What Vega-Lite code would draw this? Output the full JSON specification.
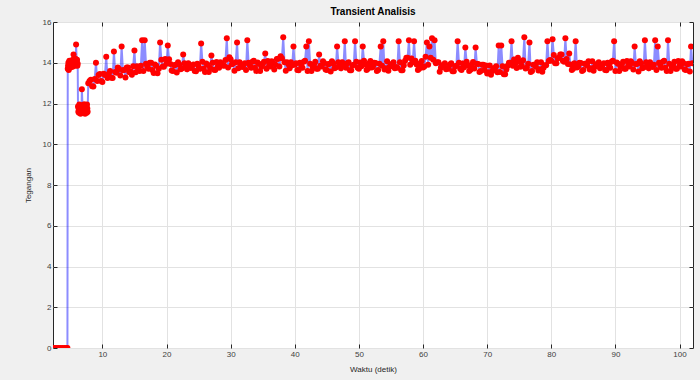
{
  "$schema": "https://vega.github.io/schema/vega-lite/v6.json",
  "width": 640,
  "height": 326,
  "autosize": {"type": "none"},
  "padding": {"left": 53, "top": 22, "right": 7, "bottom": 32},
  "background": "#f0f0f0",
  "title": {"text": "Transient Analisis", "fontSize": 10, "fontWeight": "bold", "font": "Liberation Sans", "color": "#000000", "offset": 1, "anchor": "middle"},
  "config": {
    "view": {"fill": "white", "stroke": "#262626", "strokeWidth": 1},
    "axis": {"labelFont": "Liberation Sans", "labelFontSize": 8, "labelColor": "#404040", "titleFont": "Liberation Sans", "titleFontSize": 8, "titleFontWeight": "normal", "titleColor": "#262626", "domain": false, "tickColor": "#262626", "tickSize": -4, "gridColor": "#e2e2e2", "gridWidth": 1, "labelPadding": 6}
  },
  "data": {"values": [
    {"t":2.3,"v":0},{"t":2.6,"v":0},{"t":2.9,"v":0},{"t":3.2,"v":0},{"t":3.5,"v":0},{"t":3.8,"v":0},{"t":4.1,"v":0},{"t":4.4,"v":0},{"t":4.55,"v":0},
    {"t":4.6,"v":13.7},{"t":4.7,"v":14.0},{"t":4.8,"v":13.75},{"t":4.9,"v":13.95},{"t":5.0,"v":13.85},{"t":5.1,"v":14.1},{"t":5.2,"v":13.8},{"t":5.3,"v":13.9},{"t":5.4,"v":14.15},{"t":5.5,"v":14.4},{"t":5.6,"v":14.0},{"t":5.7,"v":13.9},{"t":5.8,"v":14.2},{"t":5.9,"v":14.9},{"t":6.0,"v":14.05},{"t":6.1,"v":13.85},
    {"t":4.65,"v":13.85},{"t":4.75,"v":13.65},{"t":4.85,"v":14.1},{"t":4.95,"v":13.75},{"t":5.05,"v":14.0},{"t":5.15,"v":13.9},{"t":5.25,"v":14.05},{"t":5.35,"v":13.8},{"t":5.45,"v":14.0},{"t":5.65,"v":14.1},{"t":5.75,"v":13.85},{"t":5.85,"v":14.05},{"t":6.05,"v":14.15},{"t":6.15,"v":13.95},
    {"t":6.2,"v":11.85},{"t":6.3,"v":11.75},{"t":6.4,"v":11.95},{"t":6.5,"v":11.6},{"t":6.6,"v":11.5},{"t":6.7,"v":11.8},{"t":6.8,"v":12.7},{"t":6.9,"v":11.9},{"t":7.0,"v":11.7},{"t":7.1,"v":11.95},{"t":7.2,"v":11.65},{"t":7.3,"v":11.5},{"t":7.4,"v":11.8},{"t":7.5,"v":11.85},{"t":7.6,"v":11.95},{"t":7.7,"v":11.6},
    {"t":6.25,"v":11.6},{"t":6.35,"v":11.55},{"t":6.45,"v":11.8},{"t":6.55,"v":11.9},{"t":6.65,"v":11.65},{"t":6.75,"v":11.6},{"t":6.95,"v":11.55},{"t":7.05,"v":11.85},{"t":7.15,"v":11.8},{"t":7.25,"v":11.95},{"t":7.35,"v":11.9},{"t":7.45,"v":11.6},{"t":7.55,"v":11.55},{"t":7.65,"v":11.75},
    {"t":7.8,"v":13.0},{"t":8.0,"v":13.1},{"t":8.4,"v":12.85},{"t":8.8,"v":13.2},{"t":9.0,"v":14.0},{"t":9.2,"v":13.1},{"t":9.6,"v":13.45},{"t":10.0,"v":13.05},{"t":10.4,"v":13.4},{"t":10.6,"v":14.3},{"t":10.8,"v":13.25},{"t":11.2,"v":13.6},{"t":11.6,"v":13.25},{"t":11.8,"v":14.55},{"t":12.0,"v":13.55},{"t":12.4,"v":13.77},{"t":12.8,"v":13.37},{"t":13.0,"v":14.8},{"t":13.2,"v":13.63},{"t":13.6,"v":13.27},{"t":14.0,"v":13.77},{"t":14.4,"v":13.57},{"t":14.8,"v":13.83},{"t":15.0,"v":14.6},{"t":15.2,"v":13.53},{"t":15.6,"v":13.68},{"t":16.0,"v":13.85},{"t":16.2,"v":15.1},{"t":16.4,"v":13.6},{"t":16.6,"v":15.1},{"t":16.8,"v":13.95},{"t":17.2,"v":13.7},{"t":17.6,"v":14.0},{"t":18.0,"v":13.5},{"t":18.4,"v":13.85},{"t":18.8,"v":13.7},{"t":19.0,"v":15.0},{"t":19.2,"v":14.15},{"t":19.6,"v":13.8},{"t":20.0,"v":13.95},{"t":20.2,"v":14.85},{"t":20.4,"v":14.17},{"t":20.8,"v":13.62},{"t":21.2,"v":13.88},{"t":21.6,"v":13.52},{"t":22.0,"v":13.92},{"t":22.4,"v":13.72},{"t":22.6,"v":14.4},{"t":22.8,"v":13.98},{"t":23.2,"v":13.68},{"t":23.6,"v":13.83},{"t":24.0,"v":13.85},{"t":24.4,"v":13.6},{"t":24.8,"v":13.95},{"t":25.2,"v":13.7},{"t":25.4,"v":14.95},{"t":25.6,"v":14.05},{"t":26.0,"v":13.55},{"t":26.4,"v":13.9},{"t":26.8,"v":13.75},{"t":27.0,"v":14.35},{"t":27.2,"v":14.0},{"t":27.6,"v":13.65},{"t":28.0,"v":13.8},{"t":28.4,"v":14.02},{"t":28.8,"v":13.87},{"t":29.2,"v":14.13},{"t":29.4,"v":15.2},{"t":29.6,"v":13.77},{"t":30.0,"v":14.17},{"t":30.4,"v":13.97},{"t":30.8,"v":14.03},{"t":31.0,"v":15.0},{"t":31.2,"v":13.73},{"t":31.6,"v":13.88},{"t":32.0,"v":13.9},{"t":32.4,"v":13.65},{"t":32.6,"v":15.1},{"t":32.8,"v":14.0},{"t":33.2,"v":13.75},{"t":33.6,"v":14.1},{"t":34.0,"v":13.6},{"t":34.4,"v":13.95},{"t":34.8,"v":13.8},{"t":35.2,"v":14.05},{"t":35.4,"v":14.45},{"t":35.6,"v":13.7},{"t":36.0,"v":13.85},{"t":36.4,"v":14.07},{"t":36.8,"v":13.67},{"t":37.2,"v":14.18},{"t":37.6,"v":13.82},{"t":38.0,"v":14.22},{"t":38.2,"v":15.25},{"t":38.4,"v":14.02},{"t":38.8,"v":14.03},{"t":39.2,"v":13.73},{"t":39.6,"v":13.88},{"t":39.8,"v":14.8},{"t":40.0,"v":13.9},{"t":40.4,"v":13.65},{"t":40.8,"v":14.0},{"t":41.2,"v":13.75},{"t":41.6,"v":14.1},{"t":41.8,"v":14.8},{"t":42.0,"v":13.6},{"t":42.2,"v":15.05},{"t":42.4,"v":13.95},{"t":42.8,"v":13.8},{"t":43.2,"v":14.05},{"t":43.6,"v":13.7},{"t":43.8,"v":14.4},{"t":44.0,"v":13.85},{"t":44.4,"v":14.07},{"t":44.8,"v":13.67},{"t":45.2,"v":13.93},{"t":45.6,"v":13.57},{"t":46.0,"v":13.97},{"t":46.4,"v":13.77},{"t":46.6,"v":14.8},{"t":46.8,"v":14.03},{"t":47.2,"v":13.73},{"t":47.6,"v":13.88},{"t":47.8,"v":15.05},{"t":48.0,"v":13.75},{"t":48.4,"v":14.03},{"t":48.8,"v":13.63},{"t":49.2,"v":13.9},{"t":49.4,"v":15.05},{"t":49.6,"v":14.05},{"t":50.0,"v":13.7},{"t":50.4,"v":13.83},{"t":50.6,"v":14.8},{"t":50.8,"v":14.1},{"t":51.2,"v":13.65},{"t":51.6,"v":13.97},{"t":52.0,"v":13.77},{"t":52.4,"v":14.0},{"t":52.8,"v":13.6},{"t":53.2,"v":13.95},{"t":53.4,"v":14.8},{"t":53.6,"v":13.85},{"t":53.8,"v":15.05},{"t":54.0,"v":13.67},{"t":54.4,"v":14.07},{"t":54.8,"v":13.8},{"t":55.2,"v":13.93},{"t":55.6,"v":13.73},{"t":56.0,"v":13.75},{"t":56.2,"v":15.05},{"t":56.4,"v":14.03},{"t":56.8,"v":13.63},{"t":57.2,"v":14.1},{"t":57.6,"v":14.25},{"t":57.8,"v":15.1},{"t":58.0,"v":13.9},{"t":58.4,"v":14.03},{"t":58.6,"v":15.05},{"t":58.8,"v":14.1},{"t":59.2,"v":13.65},{"t":59.6,"v":13.97},{"t":60.0,"v":13.77},{"t":60.4,"v":14.3},{"t":60.6,"v":15.0},{"t":60.8,"v":13.9},{"t":61.0,"v":14.8},{"t":61.2,"v":14.25},{"t":61.4,"v":15.2},{"t":61.6,"v":14.15},{"t":61.8,"v":15.1},{"t":62.0,"v":13.97},{"t":62.4,"v":14.02},{"t":62.8,"v":13.75},{"t":63.2,"v":13.88},{"t":63.6,"v":13.68},{"t":64.0,"v":13.7},{"t":64.4,"v":13.98},{"t":64.8,"v":13.58},{"t":65.2,"v":13.85},{"t":65.4,"v":15.05},{"t":65.6,"v":14.0},{"t":66.0,"v":13.65},{"t":66.4,"v":13.78},{"t":66.6,"v":14.75},{"t":66.8,"v":14.05},{"t":67.2,"v":13.6},{"t":67.6,"v":13.92},{"t":68.0,"v":13.72},{"t":68.2,"v":14.75},{"t":68.4,"v":13.95},{"t":68.8,"v":13.55},{"t":69.2,"v":13.9},{"t":69.6,"v":13.65},{"t":70.0,"v":13.47},{"t":70.4,"v":13.87},{"t":70.8,"v":13.6},{"t":71.2,"v":13.73},{"t":71.6,"v":13.53},{"t":71.8,"v":14.85},{"t":72.0,"v":13.55},{"t":72.2,"v":14.85},{"t":72.4,"v":13.83},{"t":72.8,"v":13.43},{"t":73.2,"v":13.85},{"t":73.6,"v":14.0},{"t":73.8,"v":15.05},{"t":74.0,"v":13.85},{"t":74.4,"v":13.98},{"t":74.8,"v":14.25},{"t":75.2,"v":13.8},{"t":75.6,"v":14.12},{"t":75.8,"v":15.25},{"t":76.0,"v":13.72},{"t":76.4,"v":13.95},{"t":76.6,"v":15.0},{"t":76.8,"v":13.55},{"t":77.2,"v":13.9},{"t":77.6,"v":13.8},{"t":78.0,"v":13.62},{"t":78.4,"v":14.02},{"t":78.8,"v":13.75},{"t":79.2,"v":13.88},{"t":79.4,"v":15.05},{"t":79.6,"v":14.08},{"t":80.0,"v":14.1},{"t":80.2,"v":15.15},{"t":80.4,"v":14.38},{"t":80.8,"v":13.98},{"t":81.2,"v":14.25},{"t":81.6,"v":14.4},{"t":82.0,"v":14.05},{"t":82.2,"v":15.2},{"t":82.4,"v":14.18},{"t":82.8,"v":14.45},{"t":83.2,"v":13.65},{"t":83.6,"v":13.97},{"t":83.8,"v":15.05},{"t":84.0,"v":13.77},{"t":84.4,"v":14.0},{"t":84.8,"v":13.6},{"t":85.2,"v":13.95},{"t":85.6,"v":13.85},{"t":86.0,"v":13.67},{"t":86.4,"v":14.07},{"t":86.8,"v":13.8},{"t":87.2,"v":13.93},{"t":87.6,"v":13.73},{"t":88.0,"v":13.9},{"t":88.4,"v":13.65},{"t":88.8,"v":14.0},{"t":89.2,"v":13.75},{"t":89.6,"v":14.1},{"t":89.8,"v":15.05},{"t":90.0,"v":13.6},{"t":90.4,"v":13.95},{"t":90.8,"v":13.8},{"t":91.2,"v":14.05},{"t":91.6,"v":13.7},{"t":92.0,"v":13.85},{"t":92.4,"v":14.07},{"t":92.8,"v":13.67},{"t":93.0,"v":14.8},{"t":93.2,"v":13.93},{"t":93.6,"v":13.57},{"t":94.0,"v":13.97},{"t":94.4,"v":13.77},{"t":94.6,"v":15.1},{"t":94.8,"v":14.03},{"t":95.2,"v":13.73},{"t":95.6,"v":13.88},{"t":96.0,"v":13.9},{"t":96.2,"v":15.1},{"t":96.4,"v":13.65},{"t":96.6,"v":14.8},{"t":96.8,"v":14.0},{"t":97.2,"v":13.75},{"t":97.6,"v":14.1},{"t":98.0,"v":13.6},{"t":98.2,"v":15.1},{"t":98.4,"v":13.95},{"t":98.8,"v":13.8},{"t":99.2,"v":14.05},{"t":99.6,"v":13.7},{"t":100.0,"v":13.85},{"t":100.4,"v":14.07},{"t":100.8,"v":13.67},{"t":101.2,"v":13.93},{"t":101.6,"v":13.57},{"t":101.8,"v":14.8},{"t":102.0,"v":13.97},
    {"t":8.2,"v":13.17},{"t":8.6,"v":12.83},{"t":9.4,"v":13.4},{"t":9.8,"v":13.1},{"t":10.2,"v":13.46},{"t":11.0,"v":13.46},{"t":11.4,"v":13.26},{"t":12.2,"v":13.51},{"t":12.6,"v":13.69},{"t":13.4,"v":13.65},{"t":13.8,"v":13.77},{"t":14.2,"v":13.53},{"t":14.6,"v":13.41},{"t":15.4,"v":13.83},{"t":15.8,"v":13.59},{"t":17.0,"v":13.82},{"t":17.4,"v":14.0},{"t":17.8,"v":13.65},{"t":18.2,"v":13.91},{"t":18.6,"v":13.49},{"t":19.4,"v":13.81},{"t":19.8,"v":14.19},{"t":20.6,"v":13.94},{"t":21.0,"v":13.6},{"t":21.4,"v":13.9},{"t":21.8,"v":14.02},{"t":22.2,"v":13.68},{"t":23.0,"v":13.88},{"t":23.4,"v":13.98},{"t":23.8,"v":13.74},{"t":24.2,"v":13.92},{"t":24.6,"v":13.58},{"t":25.0,"v":13.82},{"t":25.8,"v":13.7},{"t":26.2,"v":13.96},{"t":26.6,"v":13.54},{"t":27.4,"v":13.66},{"t":27.8,"v":14.04},{"t":28.2,"v":13.76},{"t":28.6,"v":13.94},{"t":29.0,"v":13.85},{"t":29.8,"v":14.27},{"t":30.2,"v":13.93},{"t":30.6,"v":13.61},{"t":31.4,"v":14.03},{"t":31.8,"v":13.79},{"t":32.2,"v":13.97},{"t":33.0,"v":13.87},{"t":33.4,"v":14.05},{"t":33.8,"v":13.75},{"t":34.2,"v":14.01},{"t":34.6,"v":13.59},{"t":35.0,"v":13.91},{"t":35.8,"v":14.09},{"t":36.2,"v":13.81},{"t":36.6,"v":13.99},{"t":37.0,"v":13.9},{"t":37.4,"v":14.2},{"t":37.8,"v":14.32},{"t":38.6,"v":13.61},{"t":39.0,"v":13.93},{"t":39.4,"v":14.03},{"t":40.2,"v":13.97},{"t":40.6,"v":13.63},{"t":41.0,"v":13.87},{"t":41.4,"v":14.05},{"t":42.6,"v":13.59},{"t":43.0,"v":13.91},{"t":43.4,"v":13.71},{"t":44.2,"v":13.81},{"t":44.6,"v":13.99},{"t":45.0,"v":13.65},{"t":45.4,"v":13.95},{"t":45.8,"v":14.07},{"t":46.2,"v":13.73},{"t":47.0,"v":13.93},{"t":47.4,"v":14.03},{"t":48.2,"v":13.97},{"t":48.6,"v":13.63},{"t":49.0,"v":13.87},{"t":49.8,"v":13.75},{"t":50.2,"v":14.01},{"t":51.0,"v":13.91},{"t":51.4,"v":13.71},{"t":51.8,"v":14.09},{"t":52.2,"v":13.81},{"t":52.6,"v":13.99},{"t":53.0,"v":13.65},{"t":54.2,"v":13.73},{"t":54.6,"v":13.61},{"t":55.0,"v":13.93},{"t":55.4,"v":14.03},{"t":55.8,"v":13.79},{"t":56.6,"v":13.63},{"t":57.0,"v":13.87},{"t":57.4,"v":14.25},{"t":58.2,"v":14.21},{"t":59.0,"v":13.91},{"t":59.4,"v":13.71},{"t":59.8,"v":14.09},{"t":60.2,"v":13.81},{"t":62.2,"v":14.03},{"t":62.6,"v":13.56},{"t":63.0,"v":13.88},{"t":63.4,"v":13.98},{"t":63.8,"v":13.74},{"t":64.2,"v":13.92},{"t":64.6,"v":13.58},{"t":65.0,"v":13.82},{"t":65.8,"v":13.7},{"t":66.2,"v":13.96},{"t":67.0,"v":13.86},{"t":67.4,"v":13.66},{"t":67.8,"v":14.04},{"t":68.6,"v":13.94},{"t":69.0,"v":13.6},{"t":69.4,"v":13.9},{"t":69.8,"v":13.87},{"t":70.2,"v":13.53},{"t":70.6,"v":13.41},{"t":71.0,"v":13.73},{"t":71.4,"v":13.83},{"t":72.6,"v":13.43},{"t":73.0,"v":13.67},{"t":73.4,"v":14.0},{"t":74.2,"v":14.16},{"t":74.6,"v":13.74},{"t":75.0,"v":14.06},{"t":75.4,"v":13.86},{"t":76.2,"v":13.76},{"t":77.0,"v":13.6},{"t":77.4,"v":13.9},{"t":77.8,"v":14.02},{"t":78.2,"v":13.68},{"t":78.6,"v":13.56},{"t":79.0,"v":13.88},{"t":79.8,"v":14.14},{"t":80.6,"v":13.98},{"t":81.0,"v":14.22},{"t":81.4,"v":14.4},{"t":81.8,"v":14.1},{"t":82.6,"v":13.94},{"t":83.0,"v":13.91},{"t":83.4,"v":13.71},{"t":84.2,"v":13.81},{"t":84.6,"v":13.99},{"t":85.0,"v":13.65},{"t":85.4,"v":13.95},{"t":85.8,"v":14.07},{"t":86.2,"v":13.73},{"t":86.6,"v":13.61},{"t":87.0,"v":13.93},{"t":87.4,"v":14.03},{"t":87.8,"v":13.79},{"t":88.2,"v":13.97},{"t":88.6,"v":13.63},{"t":89.0,"v":13.87},{"t":89.4,"v":14.05},{"t":90.2,"v":14.01},{"t":90.6,"v":13.59},{"t":91.0,"v":13.91},{"t":91.4,"v":13.71},{"t":91.8,"v":14.09},{"t":92.2,"v":13.81},{"t":92.6,"v":13.99},{"t":93.4,"v":13.95},{"t":93.8,"v":14.07},{"t":94.2,"v":13.73},{"t":95.0,"v":13.93},{"t":95.4,"v":14.03},{"t":95.8,"v":13.79},{"t":97.0,"v":13.87},{"t":97.4,"v":14.05},{"t":97.8,"v":13.75},{"t":98.6,"v":13.59},{"t":99.0,"v":13.91},{"t":99.4,"v":13.71},{"t":99.8,"v":14.09},{"t":100.2,"v":13.81},{"t":100.6,"v":13.99},{"t":101.0,"v":13.65},{"t":101.4,"v":13.95}
  ]},
  "layer": [
    {
      "mark": {"type": "line", "color": "#0000ff", "opacity": 0.45, "strokeWidth": 2, "clip": true},
      "encoding": {
        "x": {"field": "t", "type": "quantitative", "scale": {"domain": [2.3, 102.1], "nice": false, "zero": false}, "axis": {"orient": "bottom", "values": [10,20,30,40,50,60,70,80,90,100], "title": "Waktu (detik)", "titlePadding": 7}},
        "y": {"field": "v", "type": "quantitative", "scale": {"domain": [0, 16], "nice": false}, "axis": {"orient": "left", "values": [0,2,4,6,8,10,12,14,16], "title": "Tegangan", "titlePadding": 10}}
      }
    },
    {
      "mark": {"type": "point", "filled": true, "color": "#ff0000", "size": 36, "opacity": 1, "clip": true},
      "encoding": {
        "x": {"field": "t", "type": "quantitative", "axis": {"orient": "top", "values": [10,20,30,40,50,60,70,80,90,100], "labels": false, "title": null, "grid": false}},
        "y": {"field": "v", "type": "quantitative", "axis": {"orient": "right", "values": [0,2,4,6,8,10,12,14,16], "labels": false, "title": null, "grid": false}}
      }
    }
  ]
}
